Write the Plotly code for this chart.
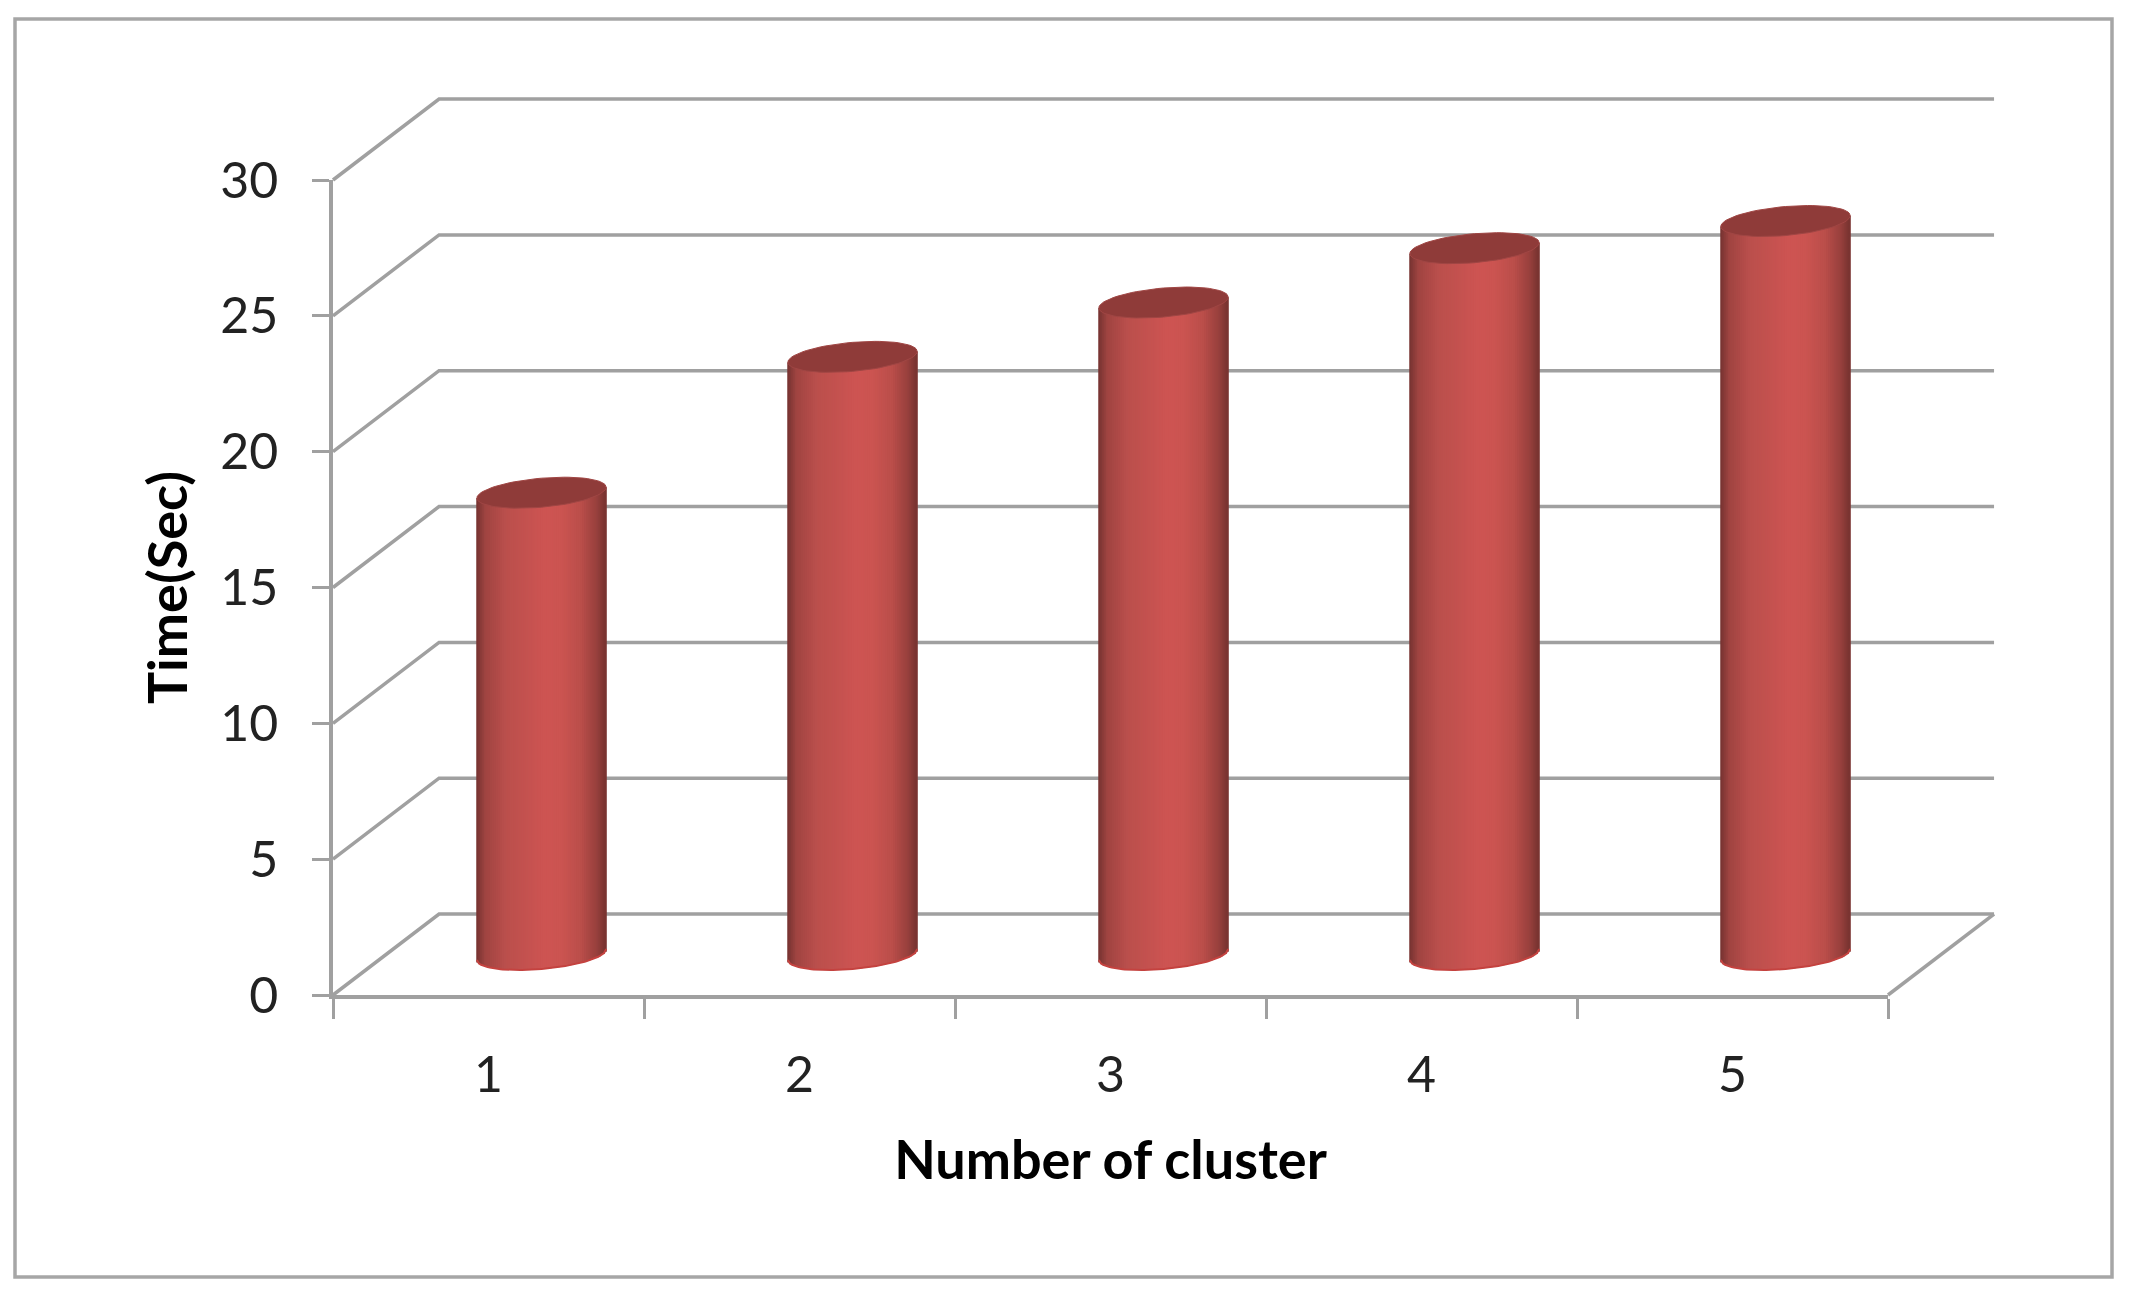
import math
import plotly.graph_objects as go

clusters = [1, 2, 3, 4, 5]
times = [17, 22, 24, 26, 27]
y_ticks = [0, 5, 10, 15, 20, 25, 30]
x_edges = [0.5, 1.5, 2.5, 3.5, 4.5, 5.5]

GREY = "#a0a0a0"
DEPTH_X, DEPTH_Y = 0.341, 2.98
HALF_W, ELL_B, TILT = 0.208, 0.534, 0.2
N = 66
STOPS = [(-1.0, (116, 50, 48)), (-0.86, (160, 68, 65)), (-0.55, (186, 79, 76)),
         (0.05, (205, 84, 82)), (0.3, (204, 84, 81)), (0.62, (186, 78, 74)),
         (0.86, (152, 64, 61)), (1.0, (118, 50, 48))]


def shade(u):
    for (a, ca), (b, cb) in zip(STOPS, STOPS[1:]):
        if a <= u <= b:
            f = (u - a) / (b - a)
            return "rgb(%d,%d,%d)" % tuple(round(p + (q - p) * f) for p, q in zip(ca, cb))
    return "rgb(%d,%d,%d)" % STOPS[-1][1]


fig = go.Figure()

# floor and back wall, on a hidden wider pair of axes beneath the columns
for v in y_ticks:
    fig.add_trace(go.Scatter(
        x=[0.5, 0.5 + DEPTH_X, 5.5 + DEPTH_X], y=[v, v + DEPTH_Y, v + DEPTH_Y],
        mode="lines", line=dict(color=GREY, width=3.5),
        hoverinfo="skip", showlegend=False, xaxis="x", yaxis="y"))
fig.add_trace(go.Scatter(
    x=[5.5, 5.5 + DEPTH_X], y=[0, DEPTH_Y], mode="lines",
    line=dict(color=GREY, width=3.5),
    hoverinfo="skip", showlegend=False, xaxis="x", yaxis="y"))

# cylinders
for c, t in zip(clusters, times):
    cx = c + DEPTH_X / 2
    base0 = DEPTH_Y / 2
    us = [-1 + (i + 0.5) * 2 / N for i in range(N)]
    xs = [cx + u * HALF_W for u in us]
    bases = [base0 + TILT * u - ELL_B * math.sqrt(1 - u * u) for u in us]
    tops = [base0 + t + TILT * u for u in us]
    fig.add_trace(go.Bar(
        x=xs, base=bases, y=[a - b for a, b in zip(tops, bases)],
        width=2 * HALF_W / N * 1.6,
        marker=dict(color=[shade(u) for u in us], line=dict(width=0)),
        name=str(c), showlegend=False, hoverinfo="skip", xaxis="x2", yaxis="y2"))
    rim_u = [-1 + i * 2 / 60 for i in range(61)]
    fig.add_trace(go.Scatter(
        x=[cx + u * HALF_W for u in rim_u],
        y=[base0 + TILT * u - ELL_B * math.sqrt(max(0, 1 - u * u)) for u in rim_u],
        mode="lines", line=dict(color="#c4423f", width=2),
        hoverinfo="skip", showlegend=False, xaxis="x2", yaxis="y2"))
    ang = [i * 2 * math.pi / 72 for i in range(73)]
    fig.add_trace(go.Scatter(
        x=[cx + HALF_W * math.cos(a) for a in ang],
        y=[base0 + t + TILT * math.cos(a) + ELL_B * math.sin(a) for a in ang],
        mode="lines", fill="toself", fillcolor="#8f3b39",
        line=dict(color="#a04644", width=1),
        name=f"{c}: {t}", showlegend=False, xaxis="x2", yaxis="y2"))

# the page adds an 8 px body margin, so page sizes are 8 less than the target
OFF = 8
W, H = 2131 - OFF, 1300 - OFF
# target pixel positions of the front plane and of the wider drawing area
AL, AR, AT, AB = 333, 1888, 180, 995
PL, PR, PT, PB = 325, 2003, 88, 1003
px = lambda p: (p - PL) / (PR - PL)
py = lambda p: (PB - p) / (PB - PT)
x_per_px = 5.0 / (AR - AL)
y_per_px = 30.0 / (AB - AT)

tick_font = dict(family="Lato, Carlito, sans-serif", size=50, color="#222222")
title_font = dict(family="Lato, Carlito, sans-serif", size=54, color="#000000", weight="bold")

fig.update_layout(
    width=W, height=H, autosize=False,
    margin=dict(l=PL - OFF, r=W - (PR - OFF), t=PT - OFF, b=H - (PB - OFF), pad=0),
    paper_bgcolor="white", plot_bgcolor="rgba(0,0,0,0)",
    barmode="overlay", showlegend=False,
    xaxis=dict(range=[0.5 - (AL - PL) * x_per_px, 5.5 + (PR - AR) * x_per_px],
               domain=[0, 1], anchor="y", visible=False),
    yaxis=dict(range=[-(PB - AB) * y_per_px, 30 + (AT - PT) * y_per_px],
               domain=[0, 1], anchor="x", visible=False),
    xaxis2=dict(
        domain=[px(AL), px(AR)], anchor="y2",
        range=[0.5, 5.5], tickmode="array", tickvals=clusters,
        ticktext=[str(c) for c in clusters], ticks="", ticklen=0,
        ticklabelstandoff=33, tickfont=tick_font,
        minor=dict(tickmode="array", tickvals=x_edges, ticks="outside",
                   ticklen=20, tickwidth=3, tickcolor=GREY, showgrid=False),
        showgrid=False, zeroline=False, showline=True, linecolor=GREY, linewidth=3.5,
        title=dict(text="Number of cluster", font=title_font, standoff=40)),
    yaxis2=dict(
        domain=[py(AB), py(AT)], anchor="x2",
        range=[0, 30], tickmode="array", tickvals=y_ticks, ticks="outside",
        ticklen=17, tickwidth=3, tickcolor=GREY, ticklabelstandoff=24,
        tickfont=tick_font, showgrid=False, zeroline=False,
        showline=True, linecolor=GREY, linewidth=3.5,
        title=dict(text="Time(Sec)", font=title_font, standoff=16)),
    shapes=[dict(type="rect", xref="paper", yref="paper",
                 x0=px(15), x1=px(2112), y0=py(1277), y1=py(19),
                 line=dict(color="#a6a6a6", width=3.5), fillcolor="rgba(0,0,0,0)")],
)
fig.write_html("out.html")
